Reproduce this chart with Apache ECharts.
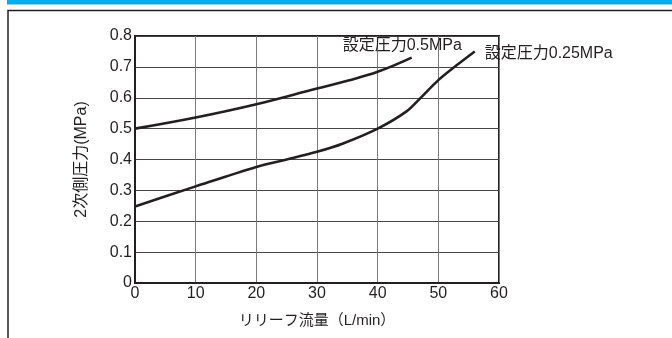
<!DOCTYPE html>
<html>
<head>
<meta charset="utf-8">
<script src="https://cdn.jsdelivr.net/npm/echarts@6/dist/echarts.min.js"></script>
<style>
html,body{margin:0;padding:0;background:#fff;}
#c{width:672px;height:338px;}
</style>
</head>
<body>
<div id="c"></div>
<script>
var xTicks = [0, 10, 20, 30, 40, 50, 60];
var yTicks = [0, 0.1, 0.2, 0.3, 0.4, 0.5, 0.6, 0.7, 0.8];
var seriesNames = ['設定圧力0.5MPa', '設定圧力0.25MPa'];
var flow05 = [0, 10, 20, 30, 35, 40, 45.6];
var press05 = [0.5, 0.536, 0.579, 0.63, 0.655, 0.684, 0.73];
var flow025 = [0, 10, 20, 25, 30, 34.3, 40, 44.7, 47, 50, 53, 56];
var press025 = [0.248, 0.313, 0.376, 0.40, 0.425, 0.452, 0.50, 0.555, 0.598, 0.657, 0.705, 0.75];
var xName = 'リリーフ流量（L/min）';
var yName = '2次側圧力(MPa)';

function pairs(xs, ys) { return xs.map(function (x, i) { return [x, ys[i]]; }); }

var font = '"Liberation Sans", Arial, "Noto Sans CJK JP", sans-serif';
var txt = '#231f20';
var chart = echarts.init(document.getElementById('c'), null, {renderer: 'canvas'});
chart.setOption({
  animation: false,
  backgroundColor: '#fff',
  textStyle: {fontFamily: font},
  graphic: [
    {type: 'rect', shape: {x: 7, y: 0, width: 665, height: 4.5}, style: {fill: '#00aeef'}, silent: true},
    {type: 'polyline', shape: {points: [[8, 338], [8, 10.5], [672, 10.5]]}, style: {stroke: '#231f20', lineWidth: 1.5, fill: null}, silent: true}
  ],
  grid: {left: 135, right: 173, top: 36, bottom: 55, show: true, borderColor: '#231f20', borderWidth: 2, backgroundColor: 'transparent'},
  xAxis: {
    type: 'value', min: xTicks[0], max: xTicks[xTicks.length - 1], interval: 10,
    name: xName, nameLocation: 'middle', nameGap: 30,
    nameTextStyle: {fontSize: 15, color: txt, fontFamily: font},
    axisLine: {show: true, lineStyle: {color: '#231f20', width: 2}},
    axisTick: {show: false},
    axisLabel: {fontSize: 16, color: txt, margin: 3, fontFamily: font},
    splitLine: {show: true, lineStyle: {color: '#7a7a7a', width: 1}}
  },
  yAxis: {
    type: 'value', min: yTicks[0], max: yTicks[yTicks.length - 1], interval: 0.1,
    name: yName, nameLocation: 'middle', nameGap: 45, nameRotate: 90,
    nameTextStyle: {fontSize: 16, color: txt, fontFamily: font},
    axisLine: {show: true, lineStyle: {color: '#231f20', width: 2}},
    axisTick: {show: false},
    axisLabel: {fontSize: 16, color: txt, margin: 3, fontFamily: font,
      formatter: function (v) { return v === 0 ? '0' : v.toFixed(1); }},
    splitLine: {show: true, lineStyle: {color: '#444', width: 1}}
  },
  series: [
    {
      name: seriesNames[0], type: 'line', data: pairs(flow05, press05),
      smooth: 0.4, showSymbol: false, symbol: 'none',
      lineStyle: {color: '#231f20', width: 2.6},
      endLabel: {show: true, formatter: seriesNames[0], fontSize: 16, color: txt, fontFamily: font, offset: [-77, -12]}
    },
    {
      name: seriesNames[1], type: 'line', data: pairs(flow025, press025),
      smooth: 0.3, showSymbol: false, symbol: 'none',
      lineStyle: {color: '#231f20', width: 2.6},
      endLabel: {show: true, formatter: seriesNames[1], fontSize: 16, color: txt, fontFamily: font, offset: [2, 2]}
    }
  ]
});
</script>
</body>
</html>
